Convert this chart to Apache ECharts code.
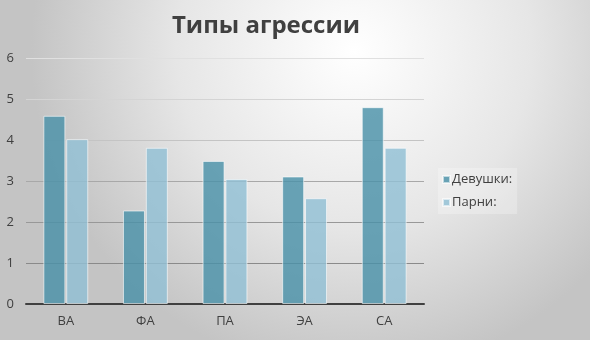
<!DOCTYPE html>
<html><head><meta charset="utf-8">
<script src="https://cdn.jsdelivr.net/npm/echarts@6/dist/echarts.min.js"></script>
<style>html,body{margin:0;padding:0;}#c{width:590px;height:340px;}</style>
</head><body><div id="c"></div>
<script>
const categories = ['ВА', 'ФА', 'ПА', 'ЭА', 'СА'];
const girls = [4.59, 2.28, 3.49, 3.11, 4.80];
const boys = [4.02, 3.81, 3.05, 2.58, 3.81];
const seriesNames = ['Девушки:', 'Парни:'];
const titleText = 'Типы агрессии';

const chart = echarts.init(document.getElementById('c'), null, {renderer: 'canvas'});
chart.setOption({
  animation: false,
  backgroundColor: {
    type: 'radial', x: 0.6, y: 0.15, r: 0.95,
    colorStops: [{offset: 0, color: '#ffffff'}, {offset: 0.55, color: '#e6e6e6'}, {offset: 1, color: '#c4c4c4'}]
  },
  title: {
    text: titleText, left: 261, top: 9, textAlign: 'center',
    textStyle: {fontFamily: 'Open Sans', fontWeight: 'bold', fontSize: 24, color: '#404040'}
  },
  legend: {
    orient: 'vertical', left: 438, top: 168,
    itemWidth: 7, itemHeight: 7, itemGap: 10, icon: 'rect',
    padding: [5, 5, 5, 4],
    backgroundColor: 'rgba(255,255,255,0.25)',
    textStyle: {fontFamily: 'Open Sans', fontSize: 13, color: '#404040', padding: [0, 0, 0, -3]},
    data: seriesNames
  },
  grid: {left: 26, right: 166, top: 58, bottom: 36, containLabel: false},
  xAxis: {
    type: 'category', data: categories,
    axisLine: {lineStyle: {color: '#404040', width: 2}},
    axisTick: {show: false},
    axisLabel: {fontFamily: 'Open Sans', fontSize: 13, color: '#404040', margin: 11}
  },
  yAxis: {
    type: 'value', min: 0, max: 6, interval: 1,
    axisLine: {show: false}, axisTick: {show: false},
    axisLabel: {fontFamily: 'Open Sans', fontSize: 13, color: '#404040', margin: 12},
    splitLine: {lineStyle: {color: ['#404040', '#8a8a8a', '#989898', '#a8a8a8', '#c4c4c4', '#d4d4d4', '#e0e0e0'], width: 1}}
  },
  series: [
    {name: seriesNames[0], type: 'bar', data: girls, barWidth: 22, barGap: '4%',
     itemStyle: {color: 'rgba(75,145,168,0.82)', borderColor: 'rgba(255,255,255,0.6)', borderWidth: 1}},
    {name: seriesNames[1], type: 'bar', data: boys, barWidth: 22,
     itemStyle: {color: 'rgba(145,192,212,0.82)', borderColor: 'rgba(255,255,255,0.6)', borderWidth: 1}}
  ]
});
</script></body></html>
